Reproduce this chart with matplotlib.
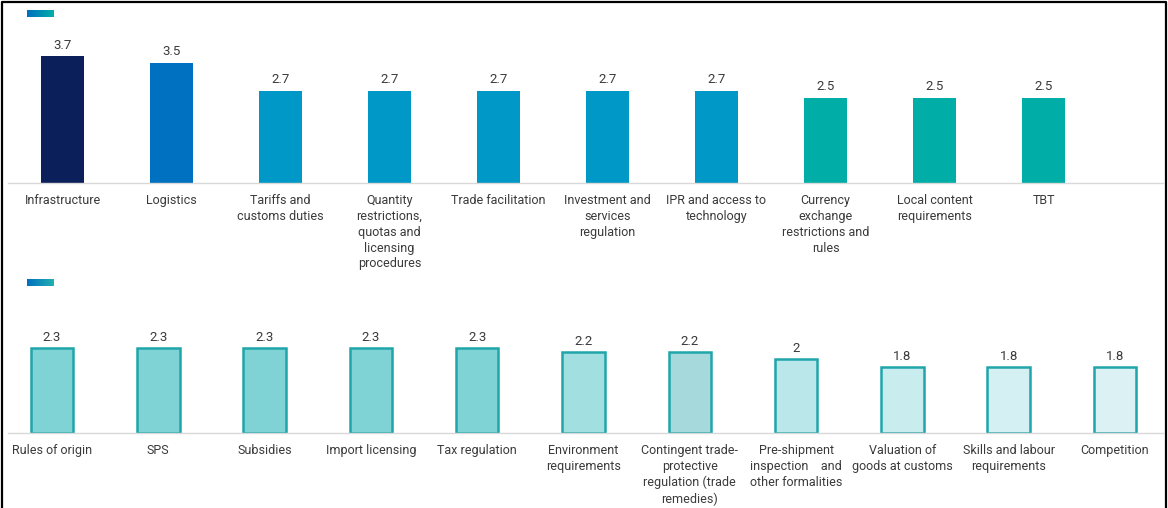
import numpy as np
import matplotlib.pyplot as plt
from matplotlib.colors import LinearSegmentedColormap
from matplotlib import font_manager

# datos del panel superior
cat_sup = ['Infrastructure', 'Logistics', 'Tariffs and\ncustoms duties',
           'Quantity\nrestrictions,\nquotas and\nlicensing\nprocedures',
           'Trade facilitation', 'Investment and\nservices\nregulation',
           'IPR and access to\ntechnology', 'Currency\nexchange\nrestrictions and\nrules',
           'Local content\nrequirements', 'TBT']
val_sup = [3.7, 3.5, 2.7, 2.7, 2.7, 2.7, 2.7, 2.5, 2.5, 2.5]
col_sup = ['#0b1f5a', '#0070c0', '#0098c6', '#0098c6', '#0098c6', '#0098c6',
           '#0098c6', '#00aea7', '#00aea7', '#00aea7']

# datos del panel inferior
cat_inf = ['Rules of origin', 'SPS', 'Subsidies', 'Import licensing', 'Tax regulation',
           'Environment\nrequirements', 'Contingent trade-\nprotective\nregulation (trade\nremedies)',
           'Pre-shipment\ninspection    and\nother formalities', 'Valuation of\ngoods at customs',
           'Skills and labour\nrequirements', 'Competition']
val_inf = [2.3, 2.3, 2.3, 2.3, 2.3, 2.2, 2.2, 2.0, 1.8, 1.8, 1.8]
lbl_inf = ['2.3', '2.3', '2.3', '2.3', '2.3', '2.2', '2.2', '2', '1.8', '1.8', '1.8']
col_inf = ['#7fd3d5', '#7fd3d5', '#7fd3d5', '#7fd3d5', '#7fd3d5', '#a2dfe1',
           '#a6d9dc', '#b9e7ea', '#c9ecef', '#d5f0f2', '#dcf1f4']

nombres = [f.name for f in font_manager.fontManager.ttflist]
fuente = 'Liberation Sans Narrow' if 'Liberation Sans Narrow' in nombres else 'Roboto'
plt.rcParams['font.family'] = [fuente, 'DejaVu Sans']

W, H = 1168, 508
fig = plt.figure(figsize=(W / 100, H / 100), dpi=100)


def caja(x0, y0, x1, y1):
    # pixeles (desde arriba) -> fraccion de figura
    return [x0 / W, 1 - y1 / H, (x1 - x0) / W, (y1 - y0) / H]


texto = '#3a3a3a'

# panel superior
ax1 = fig.add_axes(caja(8, 20, 1163, 183))
x1 = np.arange(len(val_sup))
ax1.bar(x1, val_sup, width=0.4, color=col_sup)
for xi, v in zip(x1, val_sup):
    ax1.annotate(f'{v:.1f}', (xi, v), xytext=(0, 3.5), textcoords='offset points',
                 ha='center', va='bottom', fontsize=9.5, color=texto)
ax1.set_xlim(-0.5, (1163 - 62.5) / 109)
ax1.set_ylim(0, (183 - 20) / 34.2)
ax1.set_xticks(x1)
ax1.set_xticklabels(cat_sup, fontsize=9, color=texto, linespacing=1.28, va='top')

# panel inferior
ax2 = fig.add_axes(caja(8, 300, 1163, 433))
x2 = np.arange(len(val_inf))
ax2.bar(x2, val_inf, width=0.4, color=col_inf, edgecolor='#1fa5aa', linewidth=1.8)
for xi, v, t in zip(x2, val_inf, lbl_inf):
    ax2.annotate(t, (xi, v), xytext=(0, 3), textcoords='offset points',
                 ha='center', va='bottom', fontsize=9.5, color=texto)
ax2.set_xlim((8 - 52) / 106.3, (1163 - 52) / 106.3)
ax2.set_ylim(0, (433 - 300) / 36.8)
ax2.set_xticks(x2)
ax2.set_xticklabels(cat_inf, fontsize=9, color=texto, linespacing=1.28, va='top')

for ax in (ax1, ax2):
    for s in ('top', 'right', 'left'):
        ax.spines[s].set_visible(False)
    ax.spines['bottom'].set_color('#d9d9d9')
    ax.spines['bottom'].set_linewidth(1)
    ax.set_yticks([])
    ax.tick_params(axis='x', length=0, pad=8)
    ax.patch.set_alpha(0)

# iconos de leyenda (sin texto)
grad = np.linspace(0, 1, 50).reshape(1, -1)
for y0, c2 in ((10, '#00aea7'), (279, '#22b0b0')):
    cm = LinearSegmentedColormap.from_list('g', ['#0070c0', c2])
    axl = fig.add_axes(caja(27, y0, 54, y0 + 7))
    axl.imshow(grad, aspect='auto', cmap=cm)
    axl.axis('off')

# marco
marco = fig.add_axes([0, 0, 1, 1])
marco.set_xlim(0, W)
marco.set_ylim(H, 0)
marco.plot([2, 2, 1166, 1166], [H + 5, 2, 2, H + 5], color='black', lw=1.6)
marco.axis('off')
marco.patch.set_alpha(0)

fig.savefig('out.png', dpi=100)
